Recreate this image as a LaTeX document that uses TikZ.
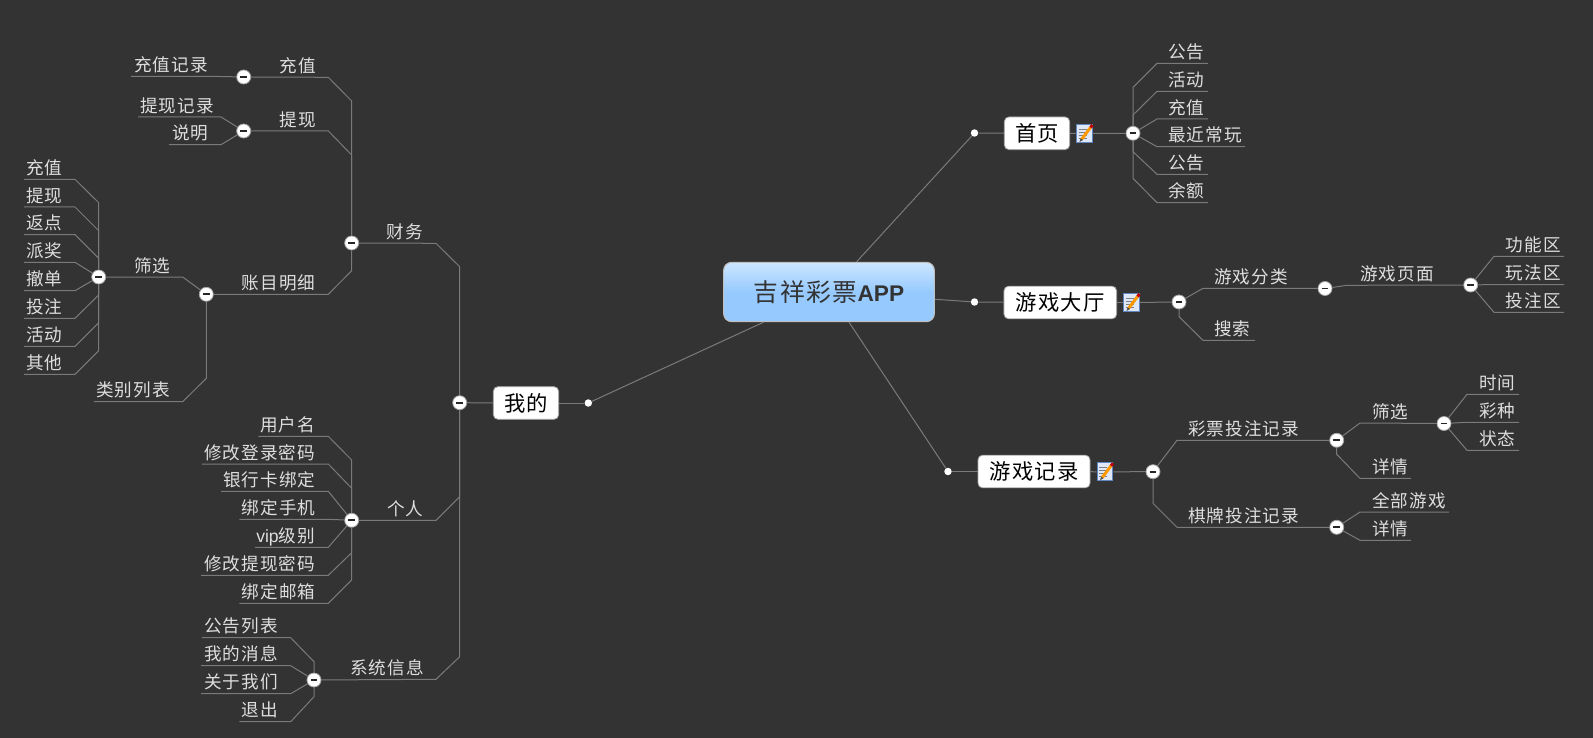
\documentclass[tikz,border=0pt]{standalone}
\usepackage{fontspec}
\newfontfamily\cjk[LetterSpace=6]{Noto Sans CJK SC}
\newfontfamily\latin{Liberation Sans}
\usetikzlibrary{arrows.meta,positioning}
\definecolor{bgdark}{HTML}{333333}
\definecolor{wire}{HTML}{7A7A7A}
\definecolor{labcol}{HTML}{DEDEDE}
\definecolor{mainlo}{HTML}{96CAFF}
\definecolor{mainhi}{HTML}{CDE6FF}
\begin{document}
\begin{tikzpicture}[x=0.75pt,y=-0.75pt]
  \tikzset{
    lab/.style={anchor=south west,inner xsep=0pt,inner ysep=0pt,text height=12pt,text depth=3.4pt,
      text=labcol,font=\cjk\fontsize{13.2pt}{15pt}\selectfont},
    hub/.style={circle,draw=white!65!black,fill=white,line width=0.6pt,minimum size=10.5pt,inner sep=0pt,
      path picture={\draw[line width=1.3pt,black!85] ([xshift=-2.6pt]path picture bounding box.center) -- ([xshift=2.6pt]path picture bounding box.center);}},
    dot/.style={circle,fill=white,minimum size=5.6pt,inner sep=0pt},
    topic/.style={rectangle,rounded corners=3.5pt,draw=white!65!black,fill=white,line width=0.6pt,inner sep=0pt,
      minimum height=24.5pt,text=black,font=\cjk\fontsize{16pt}{18pt}\selectfont},
    mainbox/.style={rectangle,rounded corners=6pt,draw=white!50!gray,line width=0.8pt,inner sep=0pt,
      minimum width=158pt,minimum height=44.5pt,top color=mainhi,bottom color=mainlo,middle color=mainlo,text=bgdark},
    notebox/.style={rectangle,draw={rgb,255:red,95;green,134;blue,192},fill={rgb,255:red,222;green,232;blue,248},
      line width=0.9pt,minimum width=11.5pt,minimum height=13.5pt,inner sep=0pt},
    wl/.style={draw=wire,line width=0.75pt},
    notepen/.pic={
      \foreach \ly in {-4,-1,2,5}
        \draw[gray,line width=0.5pt] (-6,\ly) -- (2,\ly);
      \draw[line width=2.2pt,orange!80!yellow] (-3,6) -- (6,-6);
      \draw[line width=2.2pt,red!75!black] (6,-6) -- (8,-8.5);
      \fill[black!70] (-5,8.5) -- (-3.8,4.8) -- (-1.6,6.5) -- cycle;
    }
  }
  \fill[bgdark] (0,0) rectangle (1593,738);
  % centre and topics
  \node[mainbox] (app) at (829,292) {{\cjk\fontsize{18.6pt}{22pt}\selectfont 吉祥彩票}{\latin\bfseries\fontsize{17pt}{20pt}\selectfont APP}};
  \foreach \name/\x/\y/\bw/\txt in {shouye/1037/133.3/49/首页,dating/1060.3/302.5/84.5/游戏大厅,jilu/1034/471.5/84/游戏记录,wode/526/403/49/我的}
    \node[topic,minimum width=\bw pt] (\name) at (\x,\y) {\txt};
  \foreach \name/\x/\y in {dShouye/974.5/133,dDating/974.5/302,dJilu/948/471.5,dWode/588.3/403}
    \node[dot] (\name) at (\x,\y) {};
  \foreach \name/\x/\y in {nShouye/1084.5/133.5,nDating/1131.5/302.5,nJilu/1105/471.8}
    {\node[notebox] (\name) at (\x,\y) {};
     \pic at (\name) {notepen};}
  \foreach \name/\x/\y in {hShouye/1133/133.3,hDating/1179/302,hFenlei/1325/288.5,hYemian/1470.7/285,
      hJilu/1153/471.7,hCaipiao/1336.7/440.3,hQipai/1336.7/527.3,hShaixuan/1444/423.5,
      hWode/459.7/402.7,hCaiwu/351.7/243,hGeren/351.7/520.3,hXitong/314/680,
      hChongzhi/243.7/77,hTixian/243.7/131,hZhangmu/206.3/294.3,hFilter/98.7/277}
    \node[hub] (\name) at (\x,\y) {};
  % labels, right side
  \foreach \name/\x/\y/\txt in {ggA/1168/63.3/公告,hdA/1168/91.3/活动,czA/1168/119/充值,zjA/1168/146.7/最近常玩,ggB/1168/174.3/公告,yeA/1168/202.7/余额,
      fenlei/1214/288.3/游戏分类,sousuo/1214/340.3/搜索,yemian/1360/285.3/游戏页面,gnq/1505.7/256.3/功能区,wfq/1505.7/284.5/玩法区,tzq/1505.7/312.3/投注区,
      caipiao/1188/440.3/彩票投注记录,qipai/1188/527.3/棋牌投注记录,sxR/1372/423/筛选,xqA/1372/478.3/详情,qbyx/1372/512/全部游戏,xqB/1372/540.3/详情,
      shijian/1479/394.3/时间,caizhong/1479/422.3/彩种,zhuangtai/1479/450.3/状态}
    \node[lab] (\name) at (\x,\y) {\txt};
  % labels, left side
  \foreach \name/\x/\y/\txt in {caiwu/386.7/243.3/财务,geren/387/520.3/个人,xitong/350/679.3/系统信息,
      chongzhi/279.3/77.3/充值,tixian/279.3/131/提现,zhangmu/241.7/294.3/账目明细,czjl/134/76.3/充值记录,txjl/140/117/提现记录,shuoming/172/144.7/说明,
      sxL/134/277/筛选,leibie/96/401.7/类别列表,
      lcz/26/179.3/充值,ltx/26/207/提现,lfd/26/234.7/返点,lpj/26/262.3/派奖,lcd/26/290.7/撤单,ltz/26/318.3/投注,lhd/26/346.3/活动,lqt/26/374.3/其他,
      yhm/260/436.3/用户名,xgdl/204/464/修改登录密码,yhk/223/491.3/银行卡绑定,bdsj/241.7/519.3/绑定手机,vip/256/547.3/{\latin vip}级别,xgtx/204/575.3/修改提现密码,bdyx/241.7/603.3/绑定邮箱,
      gglb/204/637.7/公告列表,wdxx/204/665.7/我的消息,gywm/204/693.7/关于我们,tuichu/241.7/721.7/退出}
    \node[lab] (\name) at (\x,\y) {\txt};
  % centre to topics
  \foreach \u/\v in {app/dShouye,app/dDating,app/dJilu,app/dWode,dShouye/shouye,shouye/nShouye,nShouye/hShouye,dDating/dating,dating/nDating,nDating/hDating,
      dJilu/jilu,jilu/nJilu,nJilu/hJilu,dWode/wode,wode/hWode}
    \draw[wl] (\u) -- (\v);
  % leaves going straight into a hub
  \foreach \name/\hub/\a/\b in {czA/hShouye/1157/1208,zjA/hShouye/1157/1245,
      gnq/hYemian/1494/1564,wfq/hYemian/1494/1564,tzq/hYemian/1494/1564,
      shijian/hShaixuan/1467/1519,caizhong/hShaixuan/1467/1519,zhuangtai/hShaixuan/1467/1519,
      qbyx/hQipai/1360/1449,xqB/hQipai/1360/1411,
      czjl/hChongzhi/210/131,txjl/hTixian/221/138,shuoming/hTixian/221/169,
      lpj/hFilter/75/24,lcd/hFilter/75/24,
      yhk/hGeren/328.3/221,bdsj/hGeren/328.3/239.3,vip/hGeren/328.3/255,
      wdxx/hXitong/290.7/201,gywm/hXitong/290.7/201}
    \draw[wl] (\b,0 |- \name.south) -- (\a,0 |- \name.south) -- (\hub);
  % leaves joining a hub's trunk
  \foreach \name/\hub/\a/\b/\jy in {ggA/hShouye/1157/1208/87.3,hdA/hShouye/1157/1208/115,ggB/hShouye/1157/1208/151.7,yeA/hShouye/1157/1208/178.3,
      sousuo/hDating/1203/1255/316.7,xqA/hCaipiao/1360/1411/454.3,leibie/hZhangmu/182.7/94/378.3,
      lcz/hFilter/75/24/202.7,ltx/hFilter/75/24/230.7,lfd/hFilter/75/24/258.3,ltz/hFilter/75/24/295,lhd/hFilter/75/24/322.7,lqt/hFilter/75/24/350.7,
      yhm/hGeren/328.3/258.3/460,xgdl/hGeren/328.3/202/488.3,xgtx/hGeren/328.3/201/552.7,bdyx/hGeren/328.3/239.3/580,
      gglb/hXitong/290.7/202/661.7,tuichu/hXitong/290.7/239.3/696.7}
    \draw[wl] (\b,0 |- \name.south) -- (\a,0 |- \name.south) -- (\hub |- 0,\jy) -- (\hub);
  % branches between two hubs
  \foreach \name/\far/\a/\hub in {fenlei/hFenlei/1203/hDating,yemian/hYemian/1347/hFenlei,caipiao/hCaipiao/1177/hJilu,sxR/hShaixuan/1360/hCaipiao,sxL/hFilter/182.7/hZhangmu}
    \draw[wl] (\far) -- (\a,0 |- \name.south) -- (\hub);
  \foreach \name/\far/\a/\hub/\jy in {qipai/hQipai/1177/hJilu/503.3,caiwu/hCaiwu/436/hWode/266.7,geren/hGeren/436/hWode/496.7,xitong/hXitong/436/hWode/656.7,
      chongzhi/hChongzhi/328.3/hCaiwu/101,tixian/hTixian/328.3/hCaiwu/155,zhangmu/hZhangmu/328.3/hCaiwu/270.7}
    \draw[wl] (\far) -- (\a,0 |- \name.south) -- (\hub |- 0,\jy) -- (\hub);
\end{tikzpicture}
\end{document}
